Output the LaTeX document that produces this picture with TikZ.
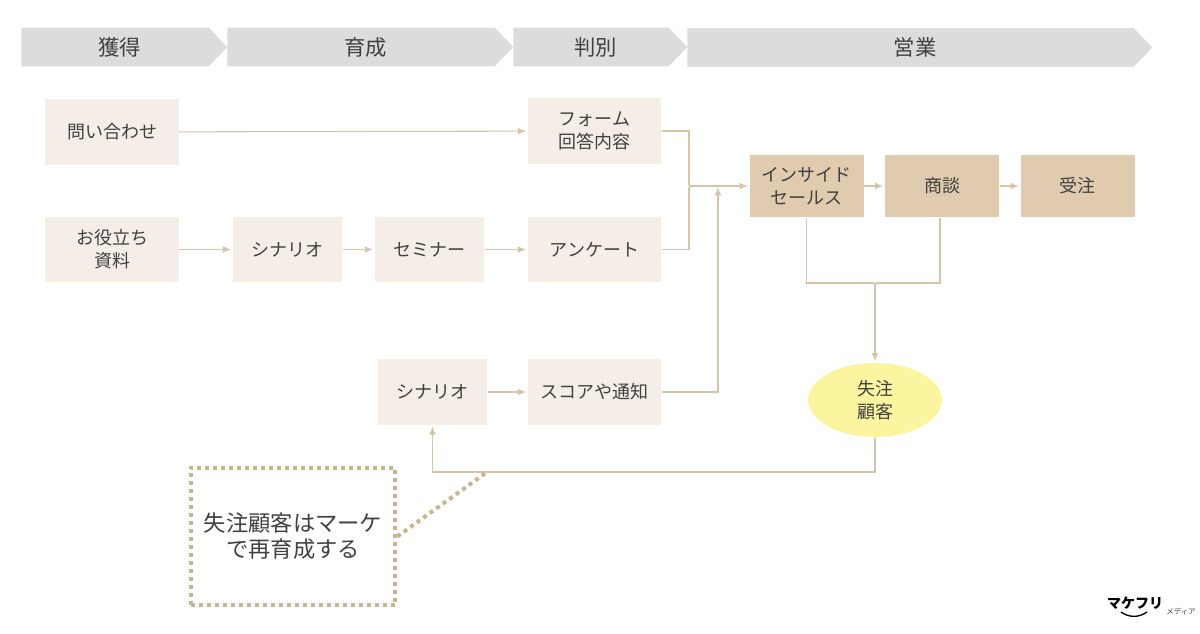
\documentclass[tikz,border=0pt]{standalone}
\usepackage{fontspec}
\setmainfont{Noto Sans CJK JP}
\usetikzlibrary{arrows.meta,shapes.symbols,shapes.geometric}

\definecolor{inkgray}{HTML}{404040}
\definecolor{stagegray}{HTML}{DCDCDC}
\definecolor{palebeige}{HTML}{F4EEE6}
\definecolor{darkbeige}{HTML}{E0CBAE}
\definecolor{linebeige}{HTML}{D6C4A8}
\definecolor{dotbeige}{HTML}{C9B48F}
\definecolor{lostyellow}{HTML}{FBF5A0}

\tikzset{
  stage/.style={signal,signal to=east,signal pointer angle=92,fill=stagegray,
                inner sep=0pt,minimum height=29pt},
  stagelabel/.style={xshift=3.5pt,inner sep=0pt,text=inkgray,
                     font=\fontsize{16}{18}\selectfont},
  lightbox/.style={rectangle,fill=palebeige,inner sep=0pt,minimum width=100pt,
                   minimum height=49pt,align=center,text=inkgray,
                   font=\fontsize{13.5}{17.5}\selectfont},
  darkbox/.style={lightbox,fill=darkbeige,minimum width=85.5pt,minimum height=46.5pt},
}

\begin{document}
\begin{tikzpicture}[->,>={Latex[length=6pt,width=5pt]},shorten >=1pt,x=0.75pt,y=-0.75pt,
                    line width=0.8pt,draw=linebeige]

  \useasboundingbox (0,0) rectangle (1200,634);

  % stages along the top
  \node[stage,minimum width=154.5pt,label={[stagelabel]center:獲得}] (s1) at (115,47)     {};
  \node[stage,minimum width=214.5pt,label={[stagelabel]center:育成}] (s2) at (361,47)     {};
  \node[stage,minimum width=130.5pt,label={[stagelabel]center:判別}] (s3) at (591,47)     {};
  \node[stage,minimum width=348.8pt,label={[stagelabel]center:営業}] (s4) at (910.5,47.5) {};

  \node[lightbox]                        (inquiry) at (112,132)     {問い合わせ};
  \node[lightbox]                        (form)    at (594.5,131)   {フォーム\\回答内容};
  \node[lightbox]                        (paper)   at (112,249.5)   {お役立ち\\資料};
  \node[lightbox,minimum width=82pt]     (scen)    at (287.5,249.5) {シナリオ};
  \node[lightbox,minimum width=82pt]     (seminar) at (429.5,249.5) {セミナー};
  \node[lightbox]                        (survey)  at (594.5,249.5) {アンケート};
  \node[lightbox,minimum width=82pt]     (rescen)  at (432.5,392)   {シナリオ};
  \node[lightbox]                        (score)   at (594.5,392)   {スコアや通知};

  \node[darkbox]                         (inside)  at (806.5,186)   {インサイド\\セールス};
  \node[darkbox]                         (talk)    at (942,186)     {商談};
  \node[darkbox]                         (won)     at (1077.5,186)  {受注};

  \node[ellipse,fill=lostyellow,inner sep=0pt,minimum width=100.5pt,minimum height=55.5pt,
        align=center,text=inkgray,font=\fontsize{13.5}{17.5}\selectfont]
                                         (lost)    at (875,400)     {失注\\顧客};

  \node[rectangle,draw=dotbeige,line width=3pt,dash pattern=on 3pt off 3pt,
        minimum width=153.5pt,minimum height=103pt,inner sep=0pt,align=center,text=inkgray,
        font=\fontsize{16.7}{19.5}\selectfont]
                                         (note)    at (293,536.5)   {失注顧客はマーケ\\で再育成する};

  \coordinate (merge) at (689,186);
  \coordinate (join)  at (718,186);
  \coordinate (bus)   at (875,283);
  \coordinate (back)  at (432.5,472);
  \coordinate (tap)   at (487,472);

  \path (inquiry) edge (form)
        (paper)   edge (scen)
        (scen)    edge (seminar)
        (seminar) edge (survey)
        (rescen)  edge (score)
        (merge)   edge (inside)
        (inside)  edge (talk)
        (talk)    edge (won)
        (bus)     edge (lost);

  \draw[-] (form) -| (merge);
  \draw[-] (survey) -| (merge);
  \draw (score) -| (join);
  \draw[-] (inside) |- (bus);
  \draw[-] (talk.south) ++(-2,0) |- (bus);
  \draw (lost) |- (back) -- (rescen);

  \draw[-,draw=dotbeige,line width=3pt,dash pattern=on 3pt off 3pt,shorten >=0pt]
    (note.east) -- (tap);

  % logo
  \node[inner sep=0pt,font=\bfseries\fontsize{10.5}{12}\selectfont,text=black]
    (logo) at (1135,603.5) {マケフリ};
  \node[inner sep=0pt,font=\fontsize{5.6}{7}\selectfont,text=inkgray]
    (media) at (1181,612) {メディア};
  \coordinate (smileL) at (1121,612);
  \coordinate (smileR) at (1147,612);
  \draw[-,draw=black,line width=1pt,shorten >=0pt] (smileL) to[bend right=35] (smileR);

\end{tikzpicture}
\end{document}
